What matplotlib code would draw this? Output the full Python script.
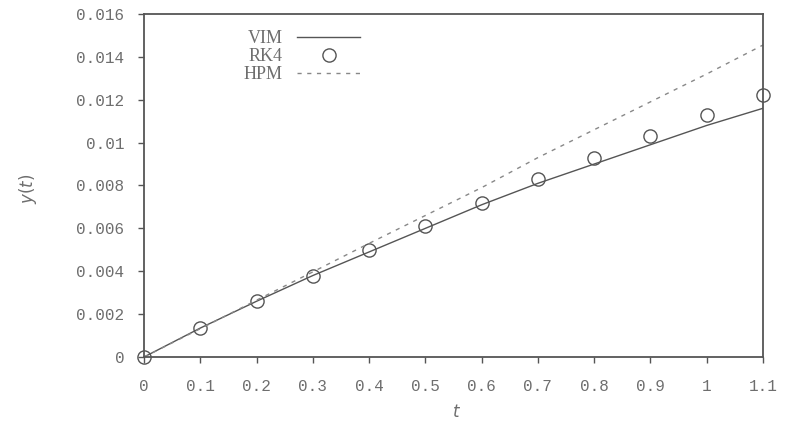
#!/usr/bin/env python3
# Recreates the VIM / RK4 / HPM comparison chart as out.png
import matplotlib
matplotlib.use("Agg")
import matplotlib.pyplot as plt

# --- data ---
t = [0.0, 0.1, 0.2, 0.3, 0.4, 0.5, 0.6, 0.7, 0.8, 0.9, 1.0, 1.1]
vim = [0.0, 0.00135, 0.0026, 0.0038, 0.0049, 0.0060, 0.0071, 0.0081,
       0.0090, 0.0099, 0.0108, 0.0116]
rk4 = [0.0, 0.00135, 0.0026, 0.0038, 0.0050, 0.0061, 0.0072, 0.0083,
       0.0093, 0.0103, 0.0113, 0.0122]
hpm = [0.0, 0.00132, 0.00265, 0.00397, 0.0053, 0.0066, 0.0079, 0.0093,
       0.0106, 0.0119, 0.0132, 0.01455]

xticks = [0, 0.1, 0.2, 0.3, 0.4, 0.5, 0.6, 0.7, 0.8, 0.9, 1, 1.1]
xtick_labels = ["0", "0.1", "0.2", "0.3", "0.4", "0.5", "0.6", "0.7",
                "0.8", "0.9", "1", "1.1"]
yticks = [0, 0.002, 0.004, 0.006, 0.008, 0.01, 0.012, 0.014, 0.016]
ytick_labels = ["0", "0.002", "0.004", "0.006", "0.008", "0.01",
                "0.012", "0.014", "0.016"]

TXT = "#6e6e6e"
INK = "#555555"

fig = plt.figure(figsize=(7.93, 4.22), dpi=100)
ax = fig.add_axes([0.1816, 0.154, 0.7806, 0.813])

ax.plot(t, vim, color=INK, lw=1.0, label="VIM")
ax.plot(t, rk4, ls="none", marker="o", ms=9.5, mfc="none", mec=INK,
        mew=1.0, label="RK4", clip_on=False)
ax.plot(t, hpm, color="#888888", lw=1.0, ls=(0, (3, 4)), label="HPM")

ax.set_xlim(0, 1.1)
ax.set_ylim(0, 0.016)
ax.set_xticks(xticks)
ax.set_xticklabels(xtick_labels)
ax.set_yticks(yticks)
ax.set_yticklabels(ytick_labels)

ax.tick_params(direction="out", length=4, width=1, color=INK,
               labelcolor=TXT, labelsize=11.5, pad=10)
for lab in ax.get_xticklabels() + ax.get_yticklabels():
    lab.set_family("Liberation Mono")
ax.tick_params(axis="x", pad=12)

for s in ax.spines.values():
    s.set_color(INK)
    s.set_linewidth(1.3)

ax.set_xlabel("$t$", color=TXT, fontsize=12)
ax.xaxis.set_label_coords(0.505, -0.135)
ax.set_ylabel("$y(t)$", color=TXT, fontsize=12)
ax.yaxis.set_label_coords(-0.17, 0.49)

leg = ax.legend(loc="upper left", bbox_to_anchor=(0.135, 1.0), frameon=False,
                markerfirst=False, handlelength=3.5, handletextpad=0.8,
                labelspacing=0.05, prop={"family": "Liberation Serif", "size": 13})
for txt in leg.get_texts():
    txt.set_color(TXT)

fig.savefig("out.png", dpi=100)
